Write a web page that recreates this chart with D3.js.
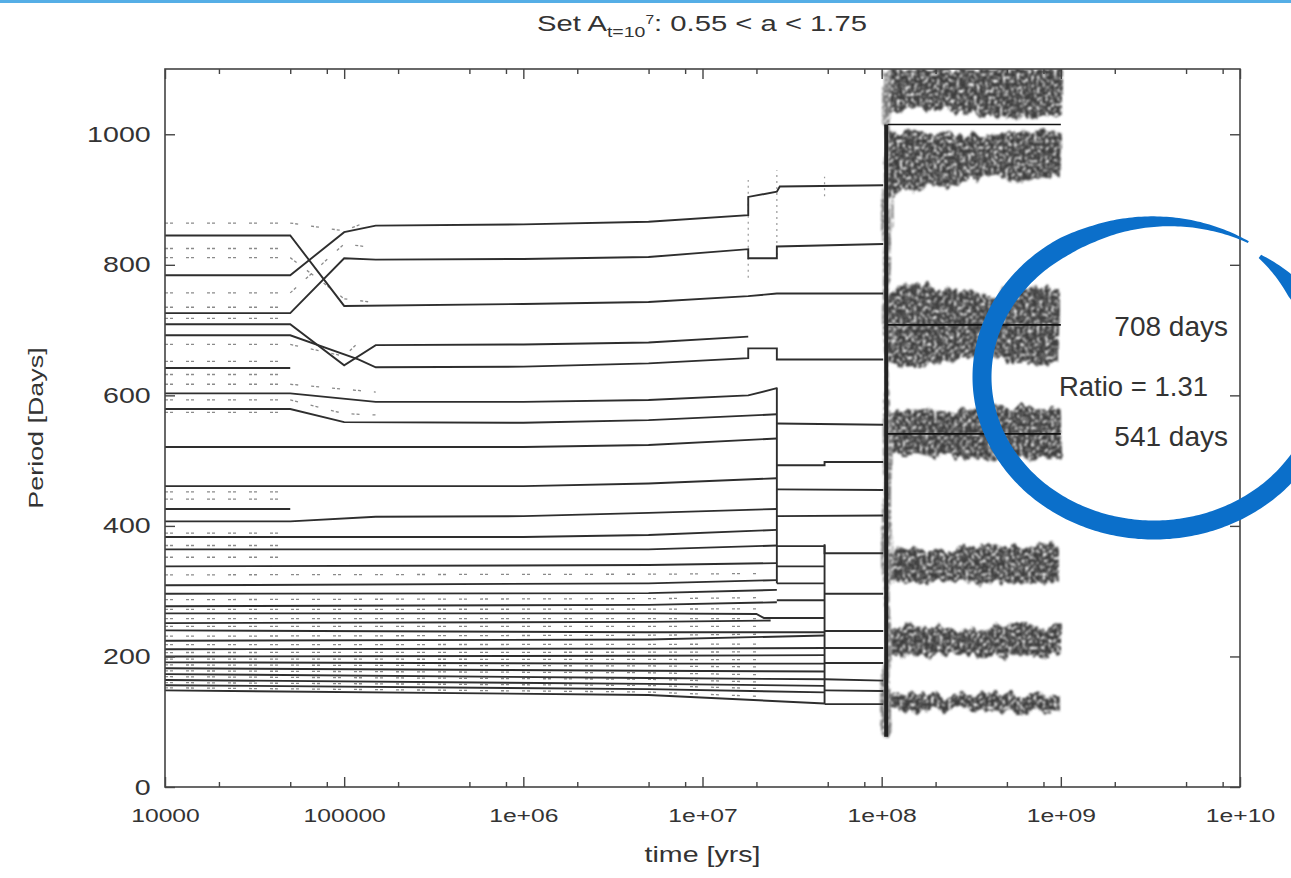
<!DOCTYPE html>
<html>
<head>
<meta charset="utf-8">
<script src="https://cdn.jsdelivr.net/npm/d3@7"></script>
<style>
  body { margin: 0; background: #fff; }
  svg text { font-family: "Liberation Sans", Arial, sans-serif; fill: #333; }
</style>
</head>
<body>
<svg id="chart" width="1291" height="878"></svg>
<script>
// ---- data: [time (yrs), period (days)] ----
const upperTracks = [
  [[1e4,845],[5e4,845],[1e5,737],[1e6,740],[5e6,743],[1.8e7,752],[2.6e7,756],[1.02e8,756]],
  [[1e4,784],[5e4,784],[1e5,850],[1.5e5,860],[1e6,862],[5e6,866],[1.8e7,876],[1.8e7,904],[2.6e7,912],[2.7e7,920],[1.02e8,922]],
  [[1e4,726],[5e4,726],[1e5,810],[1.5e5,808],[1e6,809],[5e6,812],[1.8e7,824],[1.8e7,810],[2.6e7,810],[2.6e7,828],[1.02e8,832]],
  [[1e4,709],[5e4,709],[1e5,646],[1.5e5,677],[1e6,678],[5e6,681],[1.8e7,690]],
  [[1e4,692],[5e4,692],[1.2e5,655],[1.5e5,643],[1e6,644],[5e6,649],[1.8e7,657],[1.8e7,672],[2.6e7,672],[2.6e7,655],[1.02e8,655]],
  [[1e4,642],[5e4,642]],
  [[1e4,603],[5e4,603],[1.5e5,590],[1e6,590],[5e6,593],[1.8e7,600],[2.6e7,611]],
  [[1e4,579],[5e4,579],[1e5,559],[1e6,558],[5e6,562],[2.6e7,571]],
  [[1e4,521],[1e6,521],[5e6,524],[2.6e7,534]]
];
const midTracks = [
  [[1e4,461],[1e6,461],[5e6,465],[2.6e7,473]],
  [[1e4,426],[5e4,426]],
  [[1e4,407],[5e4,407],[1.5e5,414],[1e6,415],[5e6,420],[2.6e7,426]],
  [[1e4,383],[1e6,383],[5e6,386],[2.6e7,394]],
  [[1e4,364],[5e6,364],[2.6e7,370]]
];
const lowerTracks = [
  [[1e4,338],[5e6,340],[2.6e7,343]],
  [[1e4,309],[5e6,312],[2.6e7,317]],
  [[1e4,296],[5e6,297],[2.6e7,302]],
  [[1e4,277],[5e6,279],[2.6e7,283]],
  [[1e4,266],[5e6,266],[2e7,265],[2.2e7,259],[4.8e7,259]],
  [[1e4,251],[5e6,253],[2.4e7,255]],
  [[1e4,240],[5e6,237],[4.8e7,237]],
  [[1e4,224],[5e6,226],[4.8e7,232]],
  [[1e4,211],[5e6,212],[4.8e7,213]],
  [[1e4,200],[5e6,201],[4.8e7,202]],
  [[1e4,191],[5e6,189],[4.8e7,189]],
  [[1e4,182],[5e6,178],[4.8e7,177]],
  [[1e4,173],[5e6,167],[4.8e7,165]],
  [[1e4,164],[5e6,158],[4.8e7,155]],
  [[1e4,156],[5e6,150],[4.8e7,145]],
  [[1e4,148],[5e6,141],[4.8e7,128]]
];
const lateTracks = [
  [[2.6e7,557],[1.02e8,555]],
  [[2.6e7,493],[4.8e7,493],[4.8e7,498],[1.02e8,498]],
  [[2.6e7,456],[1.02e8,455]],
  [[2.6e7,415],[1.02e8,416]],
  [[2.6e7,369],[4.8e7,369],[4.8e7,358],[1.02e8,358]],
  [[2.6e7,338],[4.8e7,338]],
  [[2.6e7,312],[4.8e7,312]],
  [[4.8e7,296],[1.02e8,296]],
  [[2.6e7,286],[4.8e7,286]],
  [[4.8e7,239],[1.02e8,239]],
  [[4.8e7,213],[1.02e8,213]],
  [[4.8e7,190],[1.02e8,190]],
  [[4.8e7,165],[1.02e8,163]],
  [[4.8e7,148],[1.02e8,147]],
  [[4.8e7,127],[1.02e8,127]]
];
const finalTracks = [
  [[1.08e8,1015],[1e9,1015]],
  [[1.08e8,708],[1e9,708]],
  [[1.08e8,541],[1e9,541]]
];
// vertical jumps: [time, low period, high period]
const jumps = [[2.6e7,312,612],[4.8e7,127,372]];
const collapse = [1.06e8, 77, 1015];
const dottedJumps = [[1.8e7,780,930],[2.6e7,815,945],[4.8e7,905,935]];

// faint dashed companions (pericentre / apocentre)
const ghostLevels = [864,825,811,757,735,718,678,652,632,617,593,574,452,441,389,370,352];
const ghostLow = [[325,327],[287,290],[272,273],[258,258],[246,246],[231,234],[218,219],[206,207],[196,195],[187,184],[178,172],[169,161],[160,151],[152,139]];
const ghostCross = [
  [[5e4,864],[1e5,852],[1.4e5,868]],
  [[5e4,757],[1e5,832],[1.5e5,826]],
  [[5e4,811],[1e5,748],[1.5e5,742]],
  [[5e4,678],[1e5,660],[1.3e5,690]],
  [[5e4,617],[1.5e5,605]],
  [[5e4,593],[1e5,572],[1.5e5,570]]
];

// scatter clouds after the instability (time nodes shared)
const cloudTimes = [1.05e8, 1.5e8, 2.5e8, 4e8, 6e8, 1e9];
const cloudA1Hi = [1100,1100,1100,1100,1100,1100];
const cloudA1Lo = [1028,1040,1036,1028,1024,1030];
const cloudA2Hi = [1006,1004,1002,1000,1004,1004];
const cloudA2Lo = [898,918,922,935,930,936];
const cloudBHi = [755,768,760,752,768,762];
const cloudBLo = [652,648,655,660,648,652];
const cloudCHi = [570,580,575,582,582,578];
const cloudCLo = [510,504,506,502,504,508];
const cloudDHi = [362,368,364,368,370,368];
const cloudDLo = [318,312,316,312,312,315];
const cloudEHi = [240,246,242,246,248,245];
const cloudELo = [205,200,204,200,200,202];
const cloudFHi = [140,143,138,142,143,140];
const cloudFLo = [118,115,118,114,115,116];
const columnSpan = [1.02e8, 1.12e8, 80, 1100];

const xMajor = [1e4,1e5,1e6,1e7,1e8,1e9,1e10];
const xLabels = ["10000","100000","1e+06","1e+07","1e+08","1e+09","1e+10"];
const xMinor = [2,5,8];
const yTicks = [0,200,400,600,800,1000];
const notes = { upper: 708, lower: 541, ratio: "Ratio = 1.31" };

// ---- drawing ----
const svg = d3.select("#chart");
const margin = {left: 165, right: 51, top: 69, bottom: 91};
const W = 1291, H = 878;
const x = d3.scaleLog().domain([1e4,1e10]).range([margin.left, W - margin.right]);
const y = d3.scaleLinear().domain([0,1100]).range([H - margin.bottom, margin.top]);
const SX = 1.3;

svg.append("rect").attr("x",0).attr("y",0).attr("width",W).attr("height",3).attr("fill","#55aee6");

const defs = svg.append("defs");
const f = defs.append("filter").attr("id","speckle").attr("filterUnits","userSpaceOnUse")
  .attr("x",0).attr("y",0).attr("width",W).attr("height",H);
f.append("feTurbulence").attr("type","fractalNoise").attr("baseFrequency","0.12 0.012").attr("numOctaves",2).attr("seed",7).attr("result","d");
f.append("feDisplacementMap").attr("in","SourceGraphic").attr("in2","d").attr("scale",16)
  .attr("xChannelSelector","R").attr("yChannelSelector","G").attr("result","disp");
f.append("feTurbulence").attr("type","fractalNoise").attr("baseFrequency","0.35 0.3").attr("numOctaves",3).attr("seed",4).attr("result","n");
f.append("feColorMatrix").attr("in","n").attr("type","matrix")
  .attr("values","0 0 0 0 0  0 0 0 0 0  0 0 0 0 0  4.4 0 0 0 -1.25").attr("result","a");
f.append("feComposite").attr("in","disp").attr("in2","a").attr("operator","in").attr("result","c");
f.append("feGaussianBlur").attr("in","c").attr("stdDeviation",0.8);
defs.append("clipPath").attr("id","plotclip").append("rect")
  .attr("x",x(1e4)).attr("y",y(1100)).attr("width",x(1e10)-x(1e4)).attr("height",y(0)-y(1100));

const plot = svg.append("g").attr("clip-path","url(#plotclip)");
const line = d3.line().x(d => x(d[0])).y(d => y(d[1]));

// clouds
const cloudSets = [
  [cloudA1Hi,cloudA1Lo],[cloudA2Hi,cloudA2Lo],[cloudBHi,cloudBLo],
  [cloudCHi,cloudCLo],[cloudDHi,cloudDLo],[cloudEHi,cloudELo],[cloudFHi,cloudFLo]
];
const area = d3.area().x(d => x(d.t)).y0(d => y(d.lo)).y1(d => y(d.hi)).curve(d3.curveMonotoneX);
const clouds = plot.append("g").attr("filter","url(#speckle)");
cloudSets.forEach(([hi, lo]) => {
  clouds.append("path")
    .datum(cloudTimes.map((t,i) => ({t, hi: hi[i], lo: lo[i]})))
    .attr("d", area).attr("fill","#3a3a3a");
});
clouds.append("rect")
  .attr("x", x(columnSpan[0])).attr("width", x(columnSpan[1]) - x(columnSpan[0]))
  .attr("y", y(columnSpan[3])).attr("height", y(columnSpan[2]) - y(columnSpan[3]))
  .attr("fill","#777");

// dashed companions
const ghosts = plot.append("g").attr("fill","none").attr("stroke","#8a8a8a").attr("stroke-width",1.3)
  .attr("stroke-dasharray","3,2,3,13");
ghostLevels.forEach(p => ghosts.append("path").attr("d", line([[1e4,p],[5e4,p]])));
ghostLow.forEach(([a,b]) => ghosts.append("path").attr("d", line([[1e4,a],[5e6,(a+b)/2],[2e7,b]])));
ghostCross.forEach(tr => ghosts.append("path").attr("d", line(tr)));
plot.append("g").attr("fill","none").attr("stroke","#999").attr("stroke-width",1.2).attr("stroke-dasharray","2,4")
  .selectAll("path").data(dottedJumps).join("path")
  .attr("d", d => line([[d[0],d[1]],[d[0],d[2]]]));

// period tracks
const tracks = plot.append("g").attr("fill","none").attr("stroke","#2e2e2e").attr("stroke-width",1.9);
[...upperTracks, ...midTracks, ...lowerTracks, ...lateTracks].forEach(tr =>
  tracks.append("path").attr("d", line(tr)));
jumps.forEach(d => tracks.append("path").attr("d", line([[d[0],d[1]],[d[0],d[2]]])));
tracks.append("path").attr("stroke-width",4).attr("stroke","#222")
  .attr("d", line([[collapse[0],collapse[1]],[collapse[0],collapse[2]]]));
plot.append("g").attr("fill","none").attr("stroke","#111").attr("stroke-width",1.6)
  .selectAll("path").data(finalTracks).join("path").attr("d", line);

// frame
svg.append("rect").attr("x",x(1e4)).attr("y",y(1100)).attr("width",x(1e10)-x(1e4)).attr("height",y(0)-y(1100))
  .attr("fill","none").attr("stroke","#444").attr("stroke-width",1.6);

// axes (gnuplot style: inward ticks, mirrored)
const minorVals = [];
xMajor.slice(0,-1).forEach(m => xMinor.forEach(k => minorVals.push(m*k)));
const styleAxis = g => { g.select(".domain").remove(); g.selectAll("line").attr("stroke","#444").attr("stroke-width",1.4); };

svg.append("g").attr("transform",`translate(0,${y(0)})`)
  .call(d3.axisBottom(x).tickValues(xMajor).tickSize(-10).tickPadding(22).tickFormat((d,i) => xLabels[i]))
  .call(styleAxis)
  .call(g => g.selectAll("text").attr("font-size",19).attr("fill","#333")
    .attr("transform",`scale(${SX},1)`));
svg.append("g").attr("transform",`translate(0,${y(0)})`)
  .call(d3.axisBottom(x).tickValues(minorVals).tickSize(-5).tickFormat(""))
  .call(styleAxis);
svg.append("g").attr("transform",`translate(0,${y(1100)})`)
  .call(d3.axisTop(x).tickValues(xMajor).tickSize(-10).tickFormat(""))
  .call(styleAxis);
svg.append("g").attr("transform",`translate(0,${y(1100)})`)
  .call(d3.axisTop(x).tickValues(minorVals).tickSize(-5).tickFormat(""))
  .call(styleAxis);
svg.append("g").attr("transform",`translate(${x(1e4)},0)`)
  .call(d3.axisLeft(y).tickValues(yTicks).tickSize(-10).tickPadding(11).tickFormat(d3.format("d")))
  .call(styleAxis)
  .call(g => g.selectAll("text").attr("font-size",22).attr("fill","#333")
    .attr("transform",`scale(${SX},1)`));
svg.append("g").attr("transform",`translate(${x(1e10)},0)`)
  .call(d3.axisRight(y).tickValues(yTicks).tickSize(-10).tickFormat(""))
  .call(styleAxis);

// titles
const title = svg.append("text").attr("text-anchor","middle").attr("font-size",22.5)
  .attr("transform",`translate(702,31) scale(${SX},1)`);
title.append("tspan").text("Set A");
title.append("tspan").attr("font-size",15).attr("dy",6).text("t=10");
title.append("tspan").attr("font-size",12).attr("dy",-13).text("7");
title.append("tspan").attr("dy",7).text(": 0.55 < a < 1.75");

svg.append("text").attr("text-anchor","middle").attr("font-size",22)
  .attr("transform",`translate(${(x(1e4)+x(1e10))/2},862) scale(${SX},1)`).text("time [yrs]");
svg.append("text").attr("text-anchor","middle").attr("font-size",21)
  .attr("transform",`translate(43,${(y(0)+y(1100))/2}) scale(1,1.28) rotate(-90)`).text("Period [Days]");

// hand drawn annotation
const ann = svg.append("g");
ann.append("text").attr("text-anchor","end").attr("font-size",28).attr("x",1228).attr("y",y(notes.upper)+11).text(notes.upper + " days");
ann.append("text").attr("text-anchor","end").attr("font-size",27.5).attr("x",1208).attr("y",(y(notes.upper)+y(notes.lower))/2+17).text(notes.ratio);
ann.append("text").attr("text-anchor","end").attr("font-size",28).attr("x",1228).attr("y",y(notes.lower)+12).text(notes.lower + " days");

const cx = 1154, cy = 377, rx = 172, ry = 153;
const a0 = -52, a1 = 302;
const outer = [], inner = [];
for (let a = a0; a <= a1; a += 1) {
  const u = (a - a0) / (a1 - a0);
  let w = 19;
  if (u < 0.05) w = 4 + 15 * (u / 0.05);
  if (u > 0.82) w = 19 - 17 * ((u - 0.82) / 0.18);
  const grow = u > 0.85 ? (u - 0.85) * 40 : 0;
  const t = a * Math.PI / 180;
  const px = cx + (rx + grow) * Math.cos(t), py = cy + (ry + grow) * Math.sin(t);
  const nx = Math.cos(t), ny = Math.sin(t);
  outer.push([px + nx * w / 2, py + ny * w / 2]);
  inner.push([px - nx * w / 2, py - ny * w / 2]);
}
ann.append("path").attr("fill","#0b6fca")
  .attr("d", d3.line().curve(d3.curveLinearClosed)([...outer, ...inner.reverse()]));
</script>
</body>
</html>
